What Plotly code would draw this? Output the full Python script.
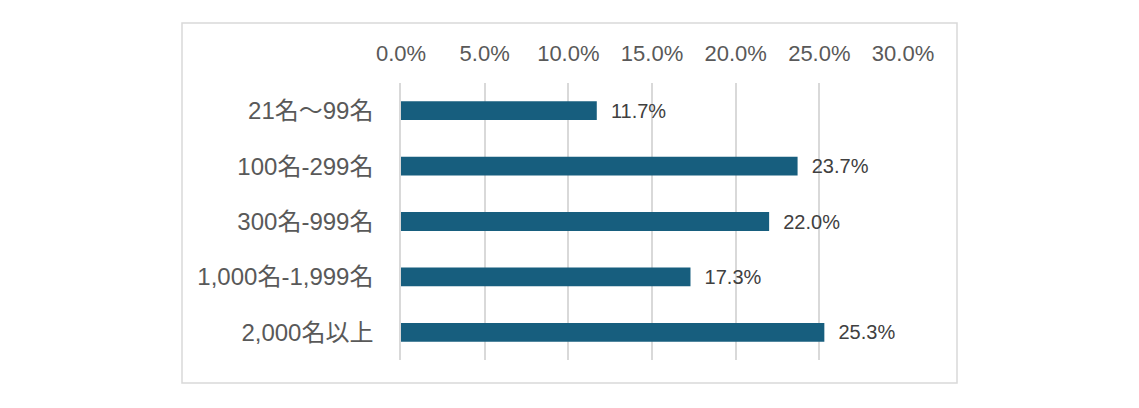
import plotly.graph_objects as go

categories = ["21名～99名", "100名-299名", "300名-999名", "1,000名-1,999名", "2,000名以上"]
values = [11.7, 23.7, 22.0, 17.3, 25.3]
tick_vals = [0, 5, 10, 15, 20, 25, 30]
tick_text = ["0.0%", "5.0%", "10.0%", "15.0%", "20.0%", "25.0%", "30.0%"]

FONT = "Liberation Sans, Arial, Noto Sans CJK JP, sans-serif"

fig = go.Figure(go.Bar(
    x=values, y=categories, orientation="h",
    marker=dict(color="#175E7E", line=dict(width=0)),
    width=0.34,
    text=[f"  {v:.1f}%" for v in values],
    textposition="outside",
    constraintext="none",
    textfont=dict(family=FONT, size=20, color="#404040"),
    cliponaxis=False,
))

OFF = 8
L, R, T, B = 401 - OFF, 903 - OFF, 83 - OFF, 360 - OFF
W, H = 1139, 408
pw, ph = R - L, B - T

fig.update_layout(
    width=W, height=H,
    margin=dict(l=L, r=W - R, t=T, b=H - B, pad=0),
    plot_bgcolor="white", paper_bgcolor="white",
    showlegend=False,
    font=dict(family=FONT),
    xaxis=dict(
        side="top", range=[0, 30], tickvals=tick_vals, ticktext=tick_text,
        showgrid=True, gridcolor="#D9D9D9", gridwidth=1.5,
        zeroline=False, showline=False, ticks="",
        tickfont=dict(family=FONT, size=22, color="#595959"),
        ticklabelstandoff=17,
    ),
    yaxis=dict(
        categoryorder="array", categoryarray=categories[::-1],
        showgrid=False, zeroline=False, showline=True,
        linecolor="#D9D9D9", linewidth=1.5, ticks="",
        tickfont=dict(family=FONT, size=24, color="#595959"),
        ticklabelstandoff=21,
    ),
    shapes=[dict(
        type="rect", xref="paper", yref="paper",
        x0=(182 - 401) / pw, x1=(957 - 401) / pw,
        y0=(360 - 383) / ph, y1=(360 - 23) / ph,
        line=dict(color="#D9D9D9", width=1.5), fillcolor="rgba(0,0,0,0)",
        layer="below",
    )],
)

fig.write_html("out.html")
